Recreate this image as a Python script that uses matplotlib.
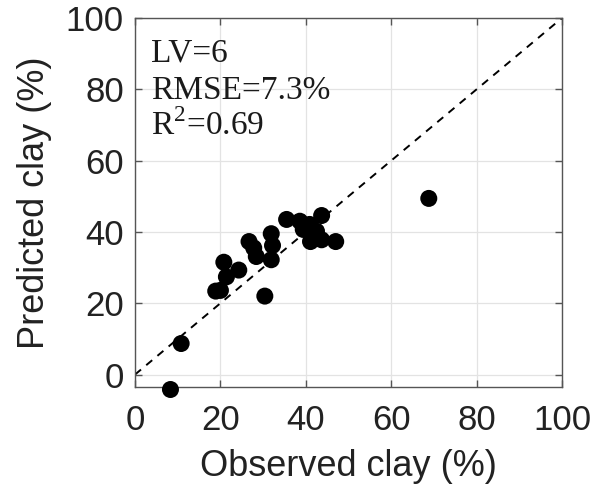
import matplotlib.pyplot as plt
import numpy as np

# observed vs predicted clay (%)
observed = [8.3, 10.8, 18.9, 20.0, 21.4, 20.8, 24.3, 30.4, 26.7, 27.8, 28.4,
            31.9, 32.2, 31.9, 35.5, 38.6, 39.4, 40.9, 43.7, 42.5, 41.1, 43.7,
            47.0, 68.8]
predicted = [-4.2, 8.7, 23.4, 23.6, 27.4, 31.5, 29.3, 22.0, 37.3, 35.5, 33.1,
             39.5, 36.2, 32.2, 43.5, 43.0, 40.7, 42.1, 44.6, 40.2, 37.3, 37.8,
             37.3, 49.4]
ticks = [0, 20, 40, 60, 80, 100]
stats = ["LV=6", "RMSE=7.3%", "R$^2$=0.69"]

plt.rcParams["mathtext.fontset"] = "custom"
plt.rcParams["mathtext.rm"] = "Liberation Serif"

fig = plt.figure(figsize=(5.98, 4.91), dpi=100)
ax = fig.add_axes([0.2258, 0.2118, 0.7140, 0.7515])

ax.plot([0, 100], [0, 100], "k--", lw=1.4, dashes=(4, 3.5))
ax.scatter(observed, predicted, s=150, c="black", zorder=3, clip_on=False,
           edgecolors="none")

ax.set_xlim(0, 100)
ax.set_ylim(-3.5, 100)
ax.set_xticks(ticks)
ax.set_yticks(ticks)
ax.grid(True, color="#e3e3e3", lw=0.9)
ax.set_axisbelow(True)
for s in ax.spines.values():
    s.set_color("#555555")
    s.set_linewidth(1.0)
ax.tick_params(direction="in", length=5, width=1, color="#555555",
               top=True, right=True, labelsize=25)
ax.tick_params(axis="x", pad=12)
ax.tick_params(axis="y", pad=8)
for lab in ax.get_xticklabels() + ax.get_yticklabels():
    lab.set_fontfamily("Liberation Sans")
    lab.set_color("#222222")

ax.set_xlabel("Observed clay (%)", fontsize=26, family="Liberation Sans",
              color="#222222", labelpad=9)
ax.set_ylabel("Predicted clay (%)", fontsize=26, family="Liberation Sans",
              color="#222222", labelpad=10)

# one line each, baselines
for yy, txt in zip([0.881, 0.780, 0.683], stats):
    ax.text(0.037, yy, txt, transform=ax.transAxes, va="baseline",
            ha="left", fontsize=24, family="Liberation Serif",
            color="#1a1a1a")

fig.savefig("out.png", dpi=100)
